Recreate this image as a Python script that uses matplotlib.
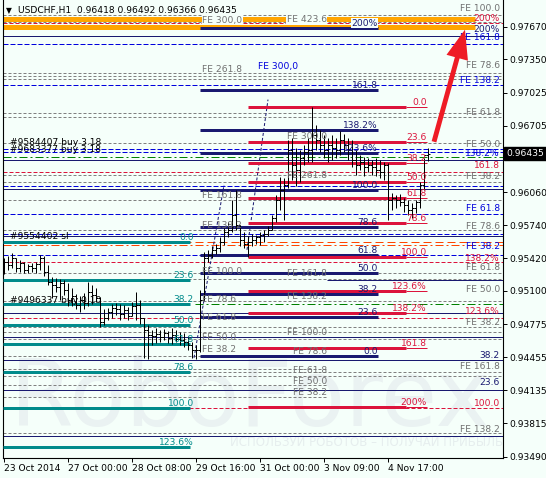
import matplotlib
matplotlib.use("Agg")
import matplotlib.pyplot as plt

plt.rcParams["font.family"] = ["DejaVu Sans"]
FS = 6.6
PX = 0.72  # one screen pixel in points at dpi 100

# ---- USDCHF H1 bars (oldest -> newest) ----
opens = [0.9540, 0.9538, 0.9535, 0.9542, 0.9532, 0.9537, 0.9530, 0.9534, 0.9532, 0.9536,
         0.9542, 0.9528, 0.9519, 0.9516, 0.9514, 0.9518, 0.9511, 0.9501, 0.9505, 0.9496,
         0.9501, 0.9498, 0.9509, 0.9506, 0.9503, 0.9480, 0.9484, 0.9490, 0.9493, 0.9492,
         0.9488, 0.9491, 0.9486, 0.9495, 0.9496, 0.9484, 0.9472, 0.9467, 0.9466, 0.9468,
         0.9465, 0.9469, 0.9464, 0.9467, 0.9463, 0.9462, 0.9460, 0.9457, 0.9453, 0.9453,
         0.9501, 0.9542, 0.9545, 0.9550, 0.9552, 0.9558, 0.9567, 0.9569, 0.9584, 0.9574,
         0.9560, 0.9556, 0.9558, 0.9560, 0.9562, 0.9564, 0.9565, 0.9569, 0.9581, 0.9598,
         0.9608, 0.9613, 0.9647, 0.9632, 0.9628, 0.9639, 0.9645, 0.9647, 0.9662, 0.9657,
         0.9652, 0.9647, 0.9652, 0.9649, 0.9647, 0.9657, 0.9652, 0.9647, 0.9637, 0.9632,
         0.9635, 0.9630, 0.9632, 0.9630, 0.9628, 0.9626, 0.9632, 0.9598, 0.9600, 0.9598,
         0.9596, 0.9594, 0.9589, 0.9591, 0.9596, 0.9613, 0.96418]
highs = [0.9542, 0.9544, 0.9547, 0.9542, 0.9540, 0.9538, 0.9536, 0.9537, 0.9538, 0.9545,
         0.9544, 0.9535, 0.9524, 0.9523, 0.9522, 0.9521, 0.9518, 0.9513, 0.9507, 0.9505,
         0.9508, 0.9519, 0.9516, 0.9513, 0.9504, 0.9492, 0.9493, 0.9497, 0.9498, 0.9497,
         0.9496, 0.9494, 0.9499, 0.9509, 0.9501, 0.9484, 0.9477, 0.9472, 0.9474, 0.9472,
         0.9473, 0.9471, 0.9474, 0.9472, 0.9470, 0.9469, 0.9466, 0.9460, 0.9457, 0.9511,
         0.9548, 0.9550, 0.9554, 0.9556, 0.9562, 0.9571, 0.9577, 0.9598, 0.9608, 0.9574,
         0.9567, 0.9563, 0.9565, 0.9564, 0.9567, 0.9569, 0.9573, 0.9584, 0.9603, 0.9621,
         0.9620, 0.9657, 0.9659, 0.9649, 0.9647, 0.9652, 0.9659, 0.9689, 0.9671, 0.9666,
         0.9662, 0.9659, 0.9662, 0.9659, 0.9665, 0.9663, 0.9659, 0.9657, 0.9647, 0.9642,
         0.9640, 0.9639, 0.9637, 0.9639, 0.9637, 0.9635, 0.9634, 0.9605, 0.9603, 0.9604,
         0.9600, 0.9598, 0.9595, 0.9598, 0.9616, 0.9639, 0.96492]
lows = [0.9526, 0.9530, 0.9532, 0.9528, 0.9528, 0.9527, 0.9527, 0.9528, 0.9527, 0.9530,
        0.9525, 0.9516, 0.9503, 0.9509, 0.9501, 0.9506, 0.9495, 0.9495, 0.9492, 0.9490,
        0.9492, 0.9495, 0.9497, 0.9499, 0.9475, 0.9477, 0.9482, 0.9484, 0.9487, 0.9482,
        0.9484, 0.9482, 0.9486, 0.9482, 0.9478, 0.9445, 0.9444, 0.9457, 0.9459, 0.9460,
        0.9462, 0.9459, 0.9458, 0.9460, 0.9457, 0.9456, 0.9453, 0.9445, 0.9444, 0.9451,
        0.9501, 0.9538, 0.9542, 0.9546, 0.9548, 0.9555, 0.9562, 0.9567, 0.9569, 0.9554,
        0.9552, 0.9543, 0.9554, 0.9556, 0.9555, 0.9558, 0.9563, 0.9569, 0.9577, 0.9589,
        0.9579, 0.9610, 0.9618, 0.9612, 0.9616, 0.9632, 0.9635, 0.9635, 0.9647, 0.9645,
        0.9639, 0.9635, 0.9637, 0.9639, 0.9642, 0.9645, 0.9637, 0.9630, 0.9623, 0.9628,
        0.9622, 0.9626, 0.9623, 0.9622, 0.9620, 0.9618, 0.9579, 0.9589, 0.9591, 0.9593,
        0.9587, 0.9584, 0.9581, 0.9586, 0.9591, 0.9608, 0.96366]
closes = [0.9538, 0.9535, 0.9542, 0.9532, 0.9537, 0.9530, 0.9534, 0.9532, 0.9536, 0.9542,
          0.9528, 0.9519, 0.9516, 0.9514, 0.9518, 0.9511, 0.9501, 0.9505, 0.9496, 0.9501,
          0.9498, 0.9509, 0.9506, 0.9503, 0.9480, 0.9484, 0.9490, 0.9493, 0.9492, 0.9488,
          0.9491, 0.9486, 0.9495, 0.9496, 0.9484, 0.9472, 0.9467, 0.9466, 0.9468, 0.9465,
          0.9469, 0.9464, 0.9467, 0.9463, 0.9462, 0.9460, 0.9457, 0.9453, 0.9453, 0.9501,
          0.9542, 0.9545, 0.9550, 0.9552, 0.9558, 0.9567, 0.9569, 0.9584, 0.9574, 0.9560,
          0.9556, 0.9558, 0.9560, 0.9562, 0.9564, 0.9565, 0.9569, 0.9581, 0.9598, 0.9608,
          0.9613, 0.9647, 0.9632, 0.9628, 0.9639, 0.9645, 0.9647, 0.9662, 0.9657, 0.9652,
          0.9647, 0.9652, 0.9649, 0.9647, 0.9657, 0.9652, 0.9647, 0.9637, 0.9632, 0.9635,
          0.9630, 0.9632, 0.9630, 0.9628, 0.9626, 0.9632, 0.9598, 0.9600, 0.9598, 0.9596,
          0.9594, 0.9589, 0.9591, 0.9596, 0.9613, 0.9642, 0.96435]

date_ticks = [0, 16, 32, 48, 64, 80, 96]
date_labels = ["23 Oct 2014", "27 Oct 00:00", "28 Oct 08:00", "29 Oct 16:00",
               "31 Oct 00:00", "3 Nov 09:00", "4 Nov 17:00"]
price_ticks = [0.97670, 0.97350, 0.97025, 0.96705, 0.96060, 0.95740, 0.95420,
               0.95100, 0.94775, 0.94455, 0.94135, 0.93815, 0.93490]

# Fibo expansion (navy), retracement (red, right), retracement (teal, left)
navy_levels = [0.9447, 0.9485, 0.9507, 0.9527, 0.9545, 0.9572, 0.9608, 0.9644, 0.9666, 0.9705, 0.9766]
navy_labels = ["0.0", "23.6", "38.2", "50.0", "61.8", "78.6", "100.0", "123.6%", "138.2%", "161.8", "200%"]
red_levels = [0.9689, 0.9655, 0.9634, 0.9616, 0.9600, 0.9576, 0.9543, 0.9510, 0.9489, 0.9455, 0.9397]
red_labels = ["0.0", "23.6", "38.2", "50.0", "61.8", "78.6", "100.0", "123.6%", "138.2%", "161.8", "200%"]
teal_levels = [0.9558, 0.9521, 0.9497, 0.9477, 0.9458, 0.9431, 0.9396, 0.9358]
teal_labels = ["0.0", "23.6", "38.2", "50.0", "61.8", "78.6", "100.0", "123.6%"]

# full-width level rays
gray_rays = [0.9778, 0.9771, 0.9722, 0.9719, 0.9716, 0.9683, 0.9679, 0.9654, 0.9623, 0.9616,
             0.9598, 0.9569, 0.9527, 0.9522, 0.9500, 0.9475, 0.9470, 0.9463, 0.9431, 0.9427, 0.9372]
gray_short = [0.9447, 0.9434, 0.9419, 0.9407]
blue_rays = [0.9750, 0.9710, 0.9648, 0.9645, 0.9612, 0.9585, 0.9565, 0.9545]
navy_rays = [0.9758, 0.9637, 0.9609, 0.9563, 0.9489, 0.9465, 0.9443, 0.9414, 0.9369]
navy_part = [0.9521]
red_rays = [0.9770, 0.9626, 0.9538, 0.9484, 0.9396]
green_rays = [0.9640]
green_part = [0.9497]
orange_rays = [0.9558, 0.9555]
orange_zone = [0.9774, 0.9767]

# labels at the right edge
right_gray = ["FE 100.0", "FE 78.6", "FE 61.8", "FE 50.0", "FE 38.2", "FE 78.6", "FE 61.8",
              "FE 50.0", "FE 38.2", "FE 161.8", "FE 138.2"]
right_gray_p = [0.9785, 0.9729, 0.9683, 0.9652, 0.9621, 0.9573, 0.9533, 0.9511, 0.9479, 0.9437, 0.9375]
right_blue = ["FE 161.8", "FE 138.2", "138.2%", "FE 61.8", "FE 38.2"]
right_blue_p = [0.9756, 0.9715, 0.9644, 0.9590, 0.9553]
right_red = ["200%", "161.8", "138.2%", "123.6%", "100.0"]
right_red_p = [0.9775, 0.9632, 0.9542, 0.9490, 0.9401]
right_navy = ["200%", "38.2", "23.6"]
right_navy_p = [0.9764, 0.9447, 0.9421]

# FE object labels inside the chart
fe1_labels = ["FE 300,0", "FE 261.8", "FE 161.8", "FE 138.2", "FE 100.0", "FE 78.6", "FE 61.8", "FE 50.0", "FE 38.2"]
fe1_prices = [0.9773, 0.9725, 0.9603, 0.9574, 0.9529, 0.9502, 0.9484, 0.9465, 0.9453]
fe2_labels = ["FE 423.6", "FE 300.0", "FE 261.8", "FE 161.8", "FE 138.2", "FE 100.0", "FE 78.6", "FE 61.8", "FE 50.0", "FE 38.2"]
fe2_prices = [0.9774, 0.9660, 0.9622, 0.9527, 0.9505, 0.9470, 0.9451, 0.9433, 0.9422, 0.9411]

order_labels = ["#9584407 buy 3.18", "#9683377 buy 3.18", "#9554402 sl", "#9496337 buy 0.10"]
order_prices = [0.9654, 0.9647, 0.9563, 0.9501]

# dotted construction lines of the expansions (bar, price)
leg1_x, leg1_p = [47.5, 55.0], [0.9445, 0.9613]
leg2_x, leg2_p = [60.75, 66.0], [0.9550, 0.9696]

# arrow: from last bars up to the target zone
arrow_from = (107.5, 0.9655)
arrow_to = (115.25, 0.9764)

BG = "#F5FFFA"
NAVY = "#191970"
BLUE = "#0000DD"
RED = "#DC143C"
TEAL = "#008B8B"
GRAY = "#808080"
GRAYTXT = "#707070"
GREEN = "#008000"
ORANGE = "#FFA500"
ORANGERED = "#FF4500"

LEFT, RIGHT = -0.325, 124.625

fig = plt.figure(figsize=(5.46, 4.78), dpi=100, facecolor=BG)
ax = fig.add_axes([2.7 / 546, 20 / 478, 499.8 / 546, 458 / 478])
ax.set_facecolor(BG)
ax.set_xlim(LEFT, RIGHT)
ax.set_ylim(0.97928 - 0.0000972 * 458, 0.97928)

# watermark
ax.text(61.5, 0.9404, "RoboForex", fontsize=66, color="#EAF2F2", ha="center", va="center", zorder=0.5)
ax.text(90.75, 0.9363, "ИСПОЛЬЗУЙ РОБОТОВ – ПОЛУЧАЙ ПРИБЫЛЬ", fontsize=8.5, color="#E6EEEE",
        ha="center", va="center", zorder=0.5)

# orange zone
ax.hlines(orange_zone, LEFT, 117.75, color=ORANGE, lw=5 * PX, zorder=1)

# rays
ax.hlines(gray_rays, LEFT, RIGHT, color=GRAY, lw=PX, linestyles=[(0, (3, 2))], zorder=2)
ax.hlines(gray_short, LEFT, 80.75, color=GRAY, lw=PX, linestyles=[(0, (3, 2))], zorder=2)
ax.hlines(blue_rays, LEFT, RIGHT, color=BLUE, lw=PX, linestyles=[(0, (5, 2))], zorder=2)
ax.hlines(navy_rays, LEFT, RIGHT, color=NAVY, lw=PX, zorder=2)
ax.hlines(navy_part, 80.75, RIGHT, color=NAVY, lw=PX, zorder=2)
ax.hlines(red_rays, LEFT, RIGHT, color=RED, lw=PX, linestyles=[(0, (4, 2))], zorder=2)
ax.hlines(green_rays, LEFT, RIGHT, color=GREEN, lw=PX, linestyles=[(0, (8, 3, 2, 3))], zorder=2)
ax.hlines(green_part, 47.75, RIGHT, color=GREEN, lw=PX, linestyles=[(0, (8, 3, 2, 3))], zorder=2)
ax.hlines(orange_rays[0], LEFT, RIGHT, color=ORANGERED, lw=PX, linestyles=[(0, (8, 4))], zorder=2)
ax.hlines(orange_rays[1], LEFT, RIGHT, color=ORANGERED, lw=PX, linestyles=[(0, (8, 3, 2, 3))], zorder=2)

ax.plot(leg1_x, leg1_p, color=NAVY, lw=PX, ls=(0, (3, 2)), zorder=3)
ax.plot(leg2_x, leg2_p, color=NAVY, lw=PX, ls=(0, (3, 2)), zorder=3)

# fibo segments
ax.hlines(navy_levels, 49, 93.5, color=NAVY, lw=3 * PX, zorder=3)
ax.hlines(red_levels, 61, 100.5, color=RED, lw=3 * PX, zorder=3)
ax.hlines(red_levels, 100.5, 105.75, color=RED, lw=PX, zorder=3)
ax.hlines(teal_levels, LEFT, 46.5, color=TEAL, lw=3 * PX, zorder=3)


def label(x, y, s, color, ha, va, band=False):
    kw = {}
    if band:
        kw["bbox"] = dict(boxstyle="square,pad=0.05", fc=BG, ec="none")
    ax.text(x, y, s, color=color, fontsize=FS, ha=ha, va=va, zorder=7, **kw)


def in_band(p):
    return min(orange_zone) - 0.0004 <= p <= max(orange_zone) + 0.0004


for p, s in zip(navy_levels, navy_labels):
    label(93.5, p, s, NAVY, "right", "bottom", in_band(p))
for p, s in zip(red_levels, red_labels):
    label(105.75, p, s, RED, "right", "bottom")
for p, s in zip(teal_levels, teal_labels):
    label(47.5, p, s, TEAL, "right", "bottom")

for texts, prices, color in [(right_gray, right_gray_p, GRAYTXT), (right_blue, right_blue_p, BLUE),
                             (right_red, right_red_p, RED), (right_navy, right_navy_p, NAVY)]:
    for s, p in zip(texts, prices):
        label(124.0, p, s, color, "right", "center")

for s, p in zip(fe1_labels, fe1_prices):
    label(49.5, p, s, GRAYTXT, "left", "center", in_band(p))
for s, p in zip(fe2_labels, fe2_prices):
    label(80.75, p, s, GRAYTXT, "right", "center", in_band(p))
label(63.5, 0.9728, "FE 300,0", BLUE, "left", "center")
for s, p in zip(order_labels, order_prices):
    label(1.5, p, s, "black", "left", "center")

# OHLC bars
xs = list(range(len(closes)))
ax.vlines(xs, lows, highs, color="black", lw=PX, zorder=6)
ax.hlines(opens, [x - 0.4 for x in xs], xs, color="black", lw=PX, zorder=6)
ax.hlines(closes, xs, [x + 0.4 for x in xs], color="black", lw=PX, zorder=6)

ax.annotate("", xy=arrow_to, xytext=arrow_from,
            arrowprops=dict(facecolor="#EE1C25", edgecolor="none", width=3.5,
                            headwidth=16, headlength=21, shrink=0), zorder=8)

# title
ax.text(0.007, 0.978, "▼", transform=ax.transAxes, fontsize=5.5, ha="left", va="center", color="black", zorder=9)
ax.text(0.031, 0.978,
        f"USDCHF,H1  {opens[-1]:.5f} {highs[-1]:.5f} {lows[-1]:.5f} {closes[-1]:.5f}",
        transform=ax.transAxes, fontsize=FS, ha="left", va="center", color="black", zorder=9)

# axes
ax.yaxis.tick_right()
ax.set_yticks(price_ticks)
ax.set_yticklabels([f"{p:.5f}" for p in price_ticks])
ax.tick_params(axis="y", direction="out", length=3, width=0.7, pad=2, labelsize=FS, colors="black")
ax.set_xticks(date_ticks)
ax.set_xticklabels(date_labels)
for t in ax.get_xticklabels():
    t.set_ha("left")
ax.tick_params(axis="x", direction="out", length=3, width=0.7, pad=1.5, labelsize=FS)
ax.spines["top"].set_visible(False)
for side in ["left", "right", "bottom"]:
    ax.spines[side].set_linewidth(0.8)
    ax.spines[side].set_color("black")

last = closes[-1]
ax.annotate(f"{last:.5f}", xy=(1.0, last), xycoords=("axes fraction", "data"),
            xytext=(3, 0), textcoords="offset points", ha="left", va="center",
            color="white", fontsize=FS, annotation_clip=False, zorder=10,
            bbox=dict(boxstyle="square,pad=0.25", fc="black", ec="black"))

fig.savefig("out.png", dpi=100, facecolor=BG)
